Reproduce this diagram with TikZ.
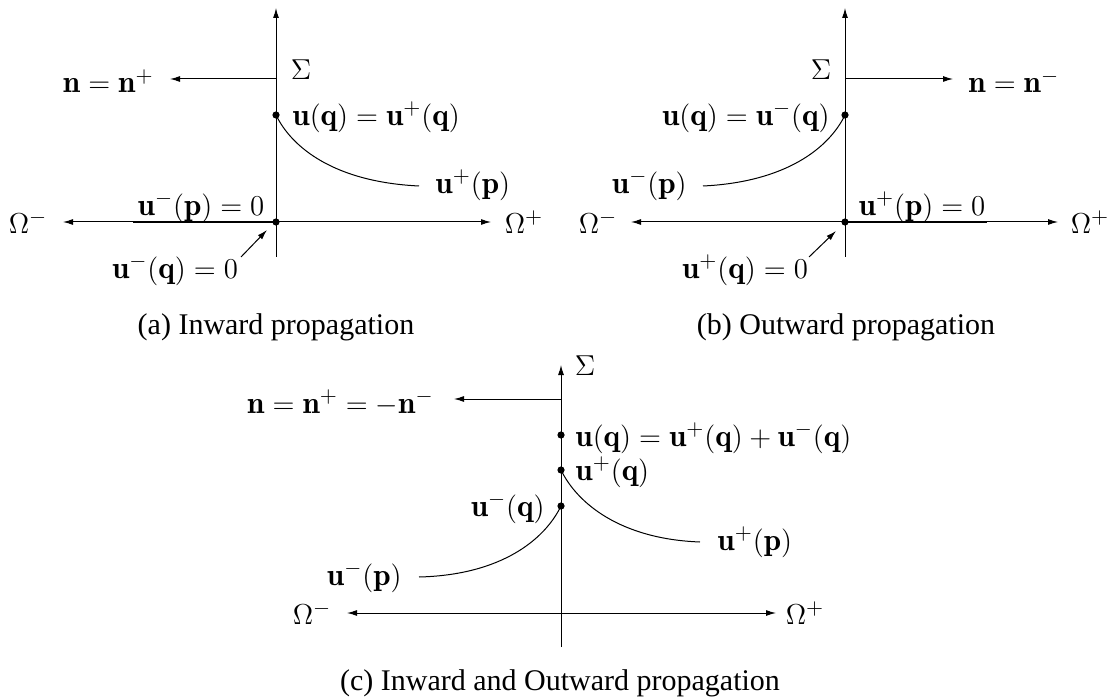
\documentclass[tikz,border=0pt]{standalone}
\usepackage{fontspec}
\newfontfamily\capfont{Liberation Serif}
\usetikzlibrary{arrows.meta}
\begin{document}
\begin{tikzpicture}[x=0.5pt,y=-0.5pt,
  font=\fontsize{15.6}{18}\selectfont,
  ax/.style={line width=0.5pt,-{Latex[length=5pt,width=3pt]}},
  ln/.style={line width=0.5pt},
  thickseg/.style={line width=1.1pt},
  dot/.style={circle,fill,inner sep=0pt,minimum size=3.6pt},
  lbl/.style={inner sep=0pt},
  captext/.style={inner sep=0pt,font=\capfont\fontsize{15}{18}\selectfont}]
\useasboundingbox (0,0) rectangle (1114,700);

% ---------------- panel (a) ----------------
\coordinate (aO) at (276,222);
\coordinate (aTop) at (276,8);
\coordinate (aBot) at (276,257);
\coordinate (aL) at (63,222);
\coordinate (aR) at (491,222);
\draw[ax] (aBot) -- (aTop);
\draw[ax] (aO) -- (aL);
\draw[ax] (aO) -- (aR);
\node[lbl] (aOm) at (28,222) {$\Omega^-$};
\node[lbl] (aOp) at (524,222) {$\Omega^+$};
\node[lbl] (aSig) at (301,70) {$\Sigma$};
\coordinate (aN0) at (276,79);
\node[lbl,anchor=east,inner xsep=8pt] (aN) at (170,81) {$\mathbf{n}=\mathbf{n}^+$};
\draw[ax] (aN0) -- (aN0 -| aN.east);
\node[dot] (aQ) at (276,115) {};
\node[lbl,anchor=west] (aQl) at (292,117) {$\mathbf{u}(\mathbf{q})=\mathbf{u}^+(\mathbf{q})$};
\coordinate (aPe) at (419,186);
\node[lbl,anchor=west] (aP) at (435,185) {$\mathbf{u}^+(\mathbf{p})$};
\draw[ln] (aQ.center) .. controls (292,148) and (335,182) .. (aPe);
\coordinate (aTs) at (133,222);
\draw[thickseg] (aTs) -- (aO);
\node[lbl] (aUp) at (201,207) {$\mathbf{u}^-(\mathbf{p})=0$};
\node[dot] (aOd) at (aO) {};
\node[lbl] (aUq) at (175,270) {$\mathbf{u}^-(\mathbf{q})=0$};
\coordinate (aAt) at (241,257);
\coordinate (aAh) at (267,230);
\draw[ax] (aAt) -- (aAh);
\node[captext] (aCap) at (276,327) {(a) Inward propagation};

% ---------------- panel (b) ----------------
\coordinate (bO) at (845,222);
\coordinate (bTop) at (845,8);
\coordinate (bBot) at (845,257);
\coordinate (bL) at (631,222);
\coordinate (bR) at (1058,222);
\draw[ax] (bBot) -- (bTop);
\draw[ax] (bO) -- (bL);
\draw[ax] (bO) -- (bR);
\node[lbl] (bOm) at (598,222) {$\Omega^-$};
\node[lbl] (bOp) at (1090,222) {$\Omega^+$};
\node[lbl] (bSig) at (821,70) {$\Sigma$};
\coordinate (bN0) at (845,79);
\node[lbl,anchor=west,inner xsep=7.5pt] (bN) at (953,81) {$\mathbf{n}=\mathbf{n}^-$};
\draw[ax] (bN0) -- (bN0 -| bN.west);
\node[dot] (bQ) at (845,115) {};
\node[lbl,anchor=east] (bQl) at (830,117) {$\mathbf{u}(\mathbf{q})=\mathbf{u}^-(\mathbf{q})$};
\coordinate (bPe) at (703,186);
\node[lbl,anchor=east] (bP) at (687,185) {$\mathbf{u}^-(\mathbf{p})$};
\draw[ln] (bQ.center) .. controls (829,148) and (786,182) .. (bPe);
\coordinate (bTe) at (987,222);
\draw[thickseg] (bO) -- (bTe);
\node[lbl] (bUp) at (922,207) {$\mathbf{u}^+(\mathbf{p})=0$};
\node[dot] (bOd) at (bO) {};
\node[lbl] (bUq) at (745,270) {$\mathbf{u}^+(\mathbf{q})=0$};
\coordinate (bAt) at (809,257);
\coordinate (bAh) at (836,231);
\draw[ax] (bAt) -- (bAh);
\node[captext] (bCap) at (846,327) {(b) Outward propagation};

% ---------------- panel (c) ----------------
\coordinate (cO) at (561,613);
\coordinate (cTop) at (561,365);
\coordinate (cBot) at (561,647);
\coordinate (cL) at (347,613);
\coordinate (cR) at (776,613);
\draw[ax] (cBot) -- (cTop);
\draw[ax] (cO) -- (cL);
\draw[ax] (cO) -- (cR);
\node[lbl] (cOm) at (312,613) {$\Omega^-$};
\node[lbl] (cOp) at (805,613) {$\Omega^+$};
\node[lbl] (cSig) at (585,366) {$\Sigma$};
\coordinate (cN0) at (561,399);
\node[lbl,anchor=east,inner xsep=10pt] (cN) at (454,403) {$\mathbf{n}=\mathbf{n}^+=-\mathbf{n}^-$};
\draw[ax] (cN0) -- (cN0 -| cN.east);
\node[dot] (cQ) at (561,435) {};
\node[lbl,anchor=west] (cQl) at (575,438) {$\mathbf{u}(\mathbf{q})=\mathbf{u}^+(\mathbf{q})+\mathbf{u}^-(\mathbf{q})$};
\node[dot] (cQp) at (561,470) {};
\node[lbl,anchor=west] (cQpl) at (575,472) {$\mathbf{u}^+(\mathbf{q})$};
\node[dot] (cQm) at (561,506) {};
\node[lbl,anchor=east] (cQml) at (545,508) {$\mathbf{u}^-(\mathbf{q})$};
\coordinate (cPpe) at (700,542);
\node[lbl,anchor=west] (cPp) at (717,542) {$\mathbf{u}^+(\mathbf{p})$};
\draw[ln] (cQp.center) .. controls (577,503) and (620,539) .. (cPpe);
\coordinate (cPme) at (419,577);
\node[lbl,anchor=east] (cPm) at (402,577) {$\mathbf{u}^-(\mathbf{p})$};
\draw[ln] (cQm.center) .. controls (545,539) and (502,575) .. (cPme);
\node[captext] (cCap) at (560,683) {(c) Inward and Outward propagation};
\end{tikzpicture}
\end{document}
